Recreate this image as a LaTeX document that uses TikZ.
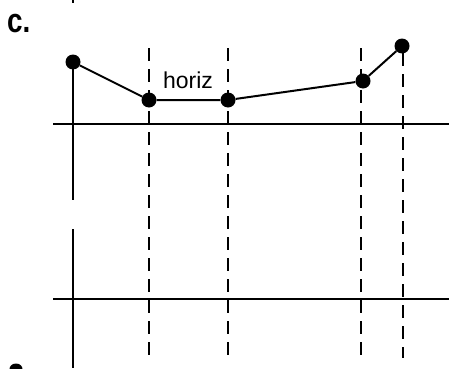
\documentclass[tikz,border=0pt]{standalone}
\usepackage{fontspec}
\setmainfont{Liberation Sans}
\begin{document}
\begin{tikzpicture}[x=1pt,y=1pt,
  dot/.style={circle,fill=black,inner sep=0pt,minimum size=15pt},
  axis/.style={line width=2.6pt},
  guide/.style={line width=2pt,dash pattern=on 13pt off 8pt},
  link/.style={line width=2pt}]
\useasboundingbox (0,0) rectangle (449,368);
% label
\node[anchor=base west,inner sep=0pt,xscale=0.82,font=\fontsize{34}{34}\selectfont\bfseries] (lab) at (7,336) {c.};
% dashed guides
\draw[guide] (149,320) -- (149,10);
\draw[guide] (228,320) -- (228,10);
\draw[guide] (361,320) -- (361,10);
\draw[guide] (403,315) -- (403,10);
% axes
\draw[axis] (53,244) -- (449,244);
\draw[axis] (53,69) -- (449,69);
\draw[axis] (73,368) -- (73,365);
% dots
\node[dot] (p1) at (73,306) {};
\node[dot] (p2) at (149,268) {};
\node[dot] (p3) at (228,268) {};
\node[dot] (p4) at (363,287) {};
\node[dot] (p5) at (402,322) {};
\coordinate (v1) at (73,168);
\coordinate (v2a) at (73,139);
\coordinate (v2b) at (73,0);
\draw[axis] (p1.center) -- (v1);
\draw[axis] (v2a) -- (v2b);
\draw[link] (p1) -- (p2) -- (p3) -- (p4) -- (p5);
\node[font=\fontsize{23}{23}\selectfont,inner sep=0pt,anchor=base] (h) at (188,280) {horiz};
% cropped fragment of next label
\fill (16,-1) ellipse (6.5 and 5.5);
\end{tikzpicture}
\end{document}
